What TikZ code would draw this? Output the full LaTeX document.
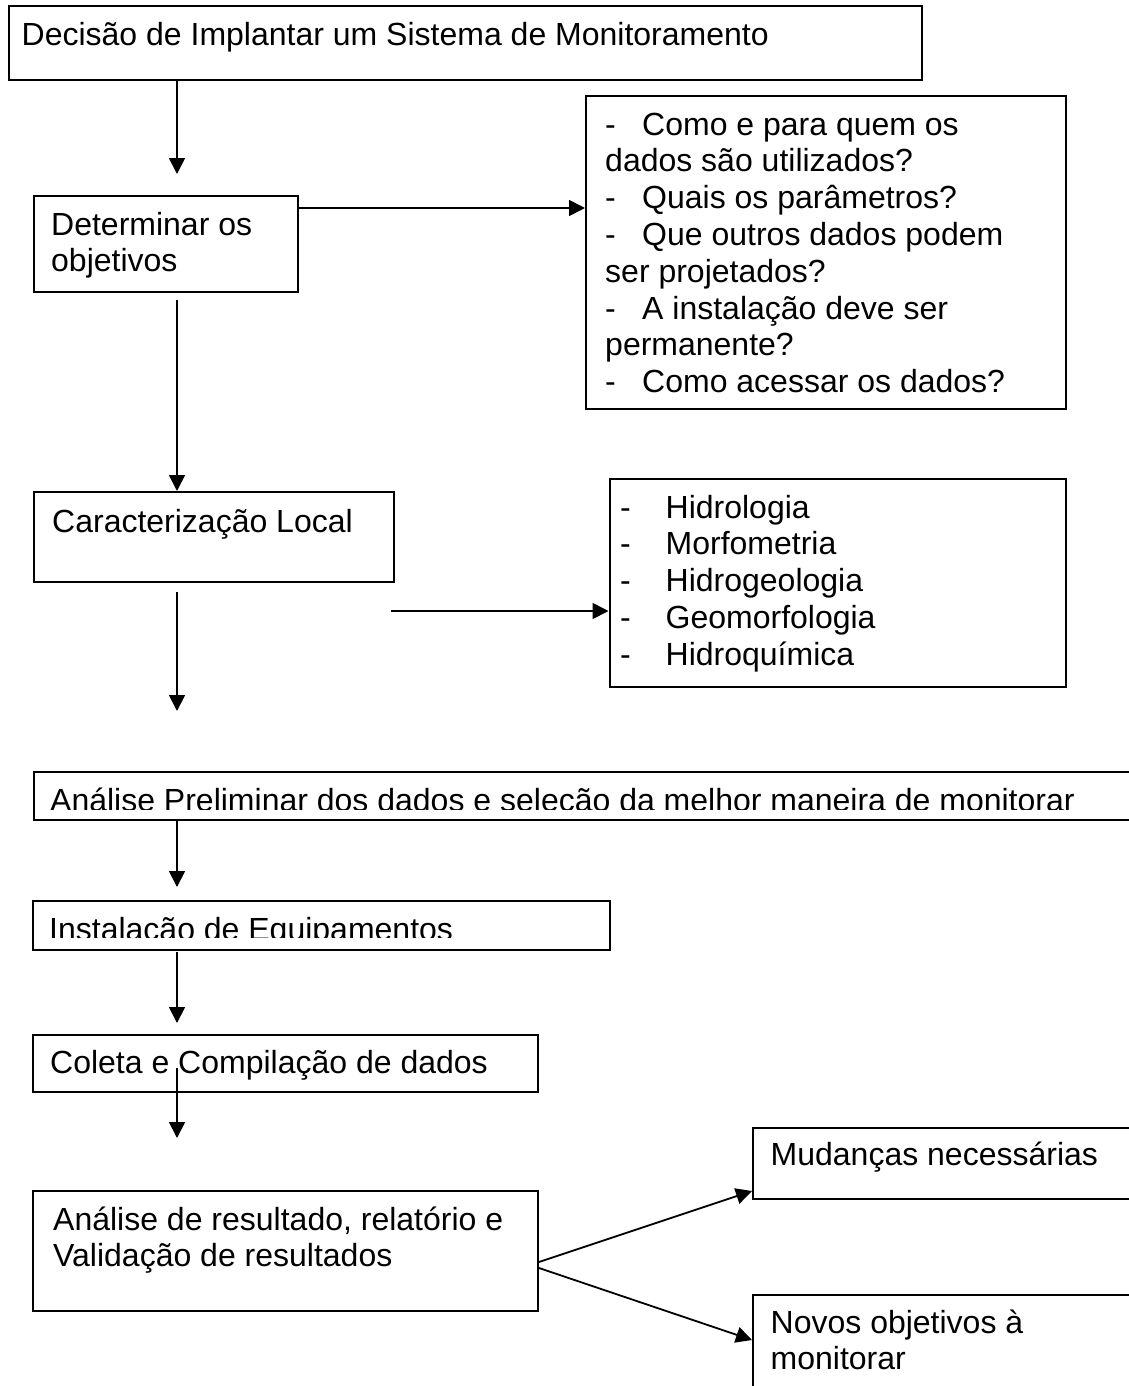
\documentclass[tikz,border=0pt]{standalone}
\usepackage{fontspec}
\setmainfont{Liberation Sans}
\usetikzlibrary{arrows.meta}
\newcommand{\dashitem}[1]{\makebox[#1][l]{-}}
\begin{document}
\begin{tikzpicture}[x=1pt,y=-1pt,
  box/.style={draw, line width=2pt, rectangle, inner sep=0pt, anchor=north west},
  txt/.style={anchor=base west, inner sep=0pt, font=\fontsize{32}{36.8}\selectfont, align=left},
  arr/.style={line width=1.8pt, -{Triangle[length=16pt,width=16pt]}}]
\useasboundingbox (0,0) rectangle (1128,1386);
\fill[white] (0,0) rectangle (1128,1386);

% boxes
\node[box, minimum width=913pt, minimum height=74pt]  (dec) at (8,5) {};
\node[box, minimum width=264.5pt, minimum height=96pt] (obj) at (32.5,195) {};
\node[box, minimum width=480pt, minimum height=313pt] (qst) at (585,95) {};
\node[box, minimum width=360.5pt, minimum height=90pt] (car) at (32.5,491) {};
\node[box, minimum width=456.5pt, minimum height=208pt] (hid) at (608.5,478) {};
\node[box, minimum width=1110pt, minimum height=48pt] (pre) at (32.5,771) {};
\node[box, minimum width=577.5pt, minimum height=49pt] (ins) at (31.6,900) {};
\node[box, minimum width=505.5pt, minimum height=57pt] (col) at (31.6,1034) {};
\node[box, minimum width=504.7pt, minimum height=120pt] (res) at (32.3,1190) {};
\node[box, minimum width=400pt, minimum height=71pt] (mud) at (752,1127) {};
\node[box, minimum width=400pt, minimum height=120pt] (nov) at (752,1294) {};

% texts (multi-line nodes are placed by the baseline of their last line)
\node[txt] (dec-t) at (21.5,46) {Decisão de Implantar um Sistema de Monitoramento};
\node[txt] (obj-t) at (51,271.8) {Determinar os\\objetivos};
\node[txt] (qst-t) at (605,392.6) {\dashitem{37pt}Como e para quem os\\
dados são utilizados?\\
\dashitem{37pt}Quais os parâmetros?\\
\dashitem{37pt}Que outros dados podem\\
ser projetados?\\
\dashitem{37pt}A instalação deve ser\\
permanente?\\
\dashitem{37pt}Como acessar os dados?};
\node[txt] (car-t) at (52,532) {Caracterização Local};
\node[txt] (hid-t) at (620,665.2) {\dashitem{45.5pt}Hidrologia\\
\dashitem{45.5pt}Morfometria\\
\dashitem{45.5pt}Hidrogeologia\\
\dashitem{45.5pt}Geomorfologia\\
\dashitem{45.5pt}Hidroquímica};
\begin{scope}
  \clip (pre.north west) rectangle (1128,809);
  \node[txt] (pre-t) at (50,811) {Análise Preliminar dos dados e seleção da melhor maneira de monitorar};
\end{scope}
\begin{scope}
  \clip (ins.north west) rectangle (ins.east |- 0,937);
  \node[txt] (ins-t) at (49,940) {Instalação de Equipamentos};
\end{scope}
\node[txt] (col-t) at (50,1073) {Coleta e Compilação de dados};
\node[txt] (res-t) at (53,1266.8) {Análise de resultado, relatório e\\Validação de resultados};
\node[txt] (mud-t) at (770.5,1165) {Mudanças necessárias};
\node[txt] (nov-t) at (770.5,1369.8) {Novos objetivos à\\monitorar};

% connector end points in free space
\coordinate (e1) at (177,174);
\coordinate (s3) at (177,300);
\coordinate (s4) at (177,592);
\coordinate (e4) at (177,711);
\coordinate (s5) at (391,611);
\coordinate (e6) at (177,887);
\coordinate (s7) at (177,952);
\coordinate (e7) at (177,1023);
\coordinate (s8) at (177,1068);
\coordinate (e8) at (177,1138);

% connectors
\draw[arr] (e1 |- dec.south) -- (e1);
\draw[arr] ([yshift=-13pt]obj.north east) -- ([yshift=-13pt]obj.north east -| qst.west);
\draw[arr] (s3) -- (s3 |- car.north);
\draw[arr] (s4) -- (e4);
\draw[arr] (s5) -- (s5 -| hid.west);
\draw[arr] (e6 |- pre.south) -- (e6);
\draw[arr] (s7) -- (e7);
\draw[arr] (s8) -- (e8);
\draw[arr] ([yshift=-72pt]res.north east) -- ([yshift=-64pt]mud.north west);
\draw[arr] ([yshift=-78pt]res.north east) -- ([yshift=-46pt]nov.north west);
\end{tikzpicture}
\end{document}
